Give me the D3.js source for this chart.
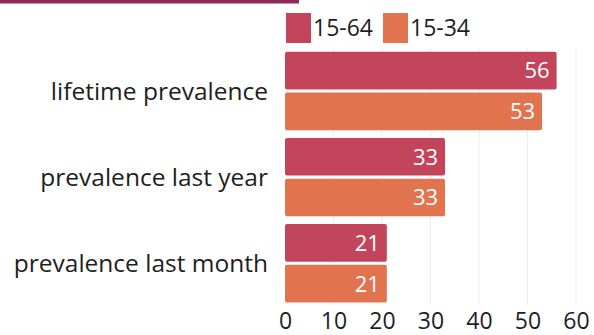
<!DOCTYPE html>
<html>
<head>
<meta charset="utf-8">
<title>Prevalence</title>
<script src="https://d3js.org/d3.v7.min.js"></script>
<style>
  body { margin: 0; background: #fff; }
  text { font-family: "Open Sans", "Noto Sans", sans-serif; fill: #1e1e1e; }
</style>
</head>
<body>
<script>
// data
var categories = ["lifetime prevalence", "prevalence last year", "prevalence last month"];
var groups = ["15-64", "15-34"];
var values1564 = [56, 33, 21];
var values1534 = [53, 33, 21];
var ticks = [0, 10, 20, 30, 40, 50, 60];
var colors = ["#c2455b", "#e2734f"];

var W = 594, H = 335;
var svg = d3.select("body").append("svg").attr("width", W).attr("height", H);

// header band
svg.append("rect").attr("x", 0).attr("y", 0).attr("width", 299).attr("height", 3.5).attr("fill", "#8b2a58");

var x = d3.scaleLinear().domain([0, 60]).range([285, 576]);
var y = d3.scaleBand().domain(categories).range([51.7, 302.5]).paddingInner(0.09).paddingOuter(0);
var y2 = d3.scaleBand().domain(groups).range([0, y.bandwidth()]).paddingInner(0.075);

// grid
svg.append("g").selectAll("line").data(ticks.slice(1)).enter().append("line")
  .attr("x1", function(d) { return x(d); }).attr("x2", function(d) { return x(d); })
  .attr("y1", 48).attr("y2", 305)
  .attr("stroke", "#ececec").attr("stroke-width", 1);

var rows = categories.map(function(c, i) {
  return { cat: c, vals: [values1564[i], values1534[i]] };
});

var g = svg.selectAll(".grp").data(rows).enter().append("g")
  .attr("transform", function(d) { return "translate(0," + y(d.cat) + ")"; });

g.selectAll("rect").data(function(d) { return d.vals; }).enter().append("rect")
  .attr("x", x(0))
  .attr("y", function(d, i) { return y2(groups[i]); })
  .attr("width", function(d) { return x(d) - x(0); })
  .attr("height", y2.bandwidth())
  .attr("rx", 2)
  .attr("fill", function(d, i) { return colors[i]; });

g.selectAll(".val").data(function(d) { return d.vals; }).enter().append("text")
  .attr("x", function(d) { return x(d) - 7; })
  .attr("y", function(d, i) { return y2(groups[i]) + y2.bandwidth() / 2; })
  .attr("dy", "0.36em")
  .attr("text-anchor", "end")
  .style("fill", "#fff")
  .style("font-size", "22px")
  .text(function(d) { return d; });

g.append("text")
  .attr("x", 268)
  .attr("y", y.bandwidth() / 2)
  .attr("dy", "0.36em")
  .attr("text-anchor", "end")
  .style("font-size", "24.5px")
  .text(function(d) { return d.cat; });

// x axis (labels only)
var axis = d3.axisBottom(x).tickValues(ticks).tickSize(0).tickPadding(0);
var ax = svg.append("g").attr("transform", "translate(0,313)").call(axis);
ax.select(".domain").remove();
ax.selectAll("text").style("font-family", "\"Open Sans\", sans-serif").style("font-size", "23px").style("fill", "#1e1e1e").attr("dy", "0.71em");

// legend
var legX = [286, 383];
var leg = svg.selectAll(".leg").data(groups).enter().append("g")
  .attr("transform", function(d, i) { return "translate(" + legX[i] + ",13)"; });
leg.append("rect").attr("width", 25).attr("height", 30).attr("fill", function(d, i) { return colors[i]; });
leg.append("text").attr("x", 27).attr("y", 15).attr("dy", "0.36em")
  .style("font-size", "23px").text(function(d) { return d; });
</script>
</body>
</html>
